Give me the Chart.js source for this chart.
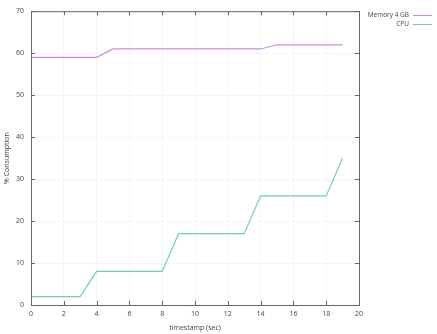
<!DOCTYPE html>
<html>
<head>
<meta charset="utf-8">
<script src="https://cdn.jsdelivr.net/npm/chart.js@4/dist/chart.umd.min.js"></script>
<style>
  html, body { margin: 0; padding: 0; background: #fff; }
  #wrap { width: 437px; height: 334px; }
</style>
</head>
<body>
<div id="wrap"><canvas id="chart" width="437" height="334"></canvas></div>
<script>
// timestamps (sec)
const timestamps = [0, 1, 2, 3, 4, 5, 6, 7, 8, 9, 10, 11, 12, 13, 14, 15, 16, 17, 18, 19];
const memoryValues = [59, 59, 59, 59, 59, 61, 61, 61, 61, 61, 61, 61, 61, 61, 61, 62, 62, 62, 62, 62];
const cpuValues = [2, 2, 2, 2, 8, 8, 8, 8, 8, 17, 17, 17, 17, 17, 26, 26, 26, 26, 26, 35];
const seriesLabels = ['Memory 4 GB', 'CPU'];
const seriesColors = ['#c78ce0', '#6cd0b8'];

const xTicks = { min: 0, max: 20, step: 2 };
const yTicks = { min: 0, max: 70, step: 10 };

const textColor = '#444';
const frameColor = '#666';

// gnuplot-like frame with inward ticks on all four sides, plus key on the right
const framePlugin = {
    id: 'frame',
    afterDraw(chart) {
        const { ctx, chartArea: a, scales } = chart;
        ctx.save();
        ctx.strokeStyle = frameColor;
        ctx.lineWidth = 1;
        ctx.strokeRect(a.left + 0.5, a.top + 0.5, a.right - a.left, a.bottom - a.top);
        ctx.beginPath();
        scales.x.ticks.forEach(t => {
            const px = Math.round(scales.x.getPixelForValue(t.value)) + 0.5;
            ctx.moveTo(px, a.bottom); ctx.lineTo(px, a.bottom - 4);
            ctx.moveTo(px, a.top); ctx.lineTo(px, a.top + 4);
        });
        scales.y.ticks.forEach(t => {
            const py = Math.round(scales.y.getPixelForValue(t.value)) + 0.5;
            ctx.moveTo(a.left, py); ctx.lineTo(a.left + 4, py);
            ctx.moveTo(a.right, py); ctx.lineTo(a.right - 4, py);
        });
        ctx.stroke();

        // key
        ctx.font = '6.5px "Open Sans", sans-serif';
        ctx.fillStyle = textColor;
        ctx.textAlign = 'right';
        ctx.textBaseline = 'middle';
        chart.data.datasets.forEach((ds, i) => {
            const y = 15 + i * 9;
            ctx.fillText(ds.label, 409, y);
            ctx.strokeStyle = ds.borderColor;
            ctx.beginPath();
            ctx.moveTo(413, Math.round(y) + 0.5);
            ctx.lineTo(432, Math.round(y) + 0.5);
            ctx.stroke();
        });
        ctx.restore();
    }
};

new Chart(document.getElementById('chart').getContext('2d'), {
    type: 'line',
    data: {
        datasets: [
            {
                label: seriesLabels[0],
                data: timestamps.map((t, i) => ({ x: t, y: memoryValues[i] })),
                borderColor: seriesColors[0],
                borderWidth: 1.2,
                pointRadius: 0,
                tension: 0
            },
            {
                label: seriesLabels[1],
                data: timestamps.map((t, i) => ({ x: t, y: cpuValues[i] })),
                borderColor: seriesColors[1],
                borderWidth: 1.2,
                pointRadius: 0,
                tension: 0
            }
        ]
    },
    options: {
        responsive: false,
        animation: false,
        layout: { padding: { top: 9, right: 78, left: 0, bottom: 0 } },
        plugins: { legend: { display: false }, tooltip: { enabled: false } },
        scales: {
            x: {
                type: 'linear',
                min: xTicks.min,
                max: xTicks.max,
                ticks: { stepSize: xTicks.step, color: textColor, font: { size: 7, family: '"Open Sans", sans-serif' }, padding: 5, maxRotation: 0 },
                grid: { color: '#f5f5f5', drawTicks: false },
                border: { display: false },
                title: { display: true, text: 'timestamp (sec)', color: textColor, font: { size: 7, family: '"Open Sans", sans-serif' }, padding: { top: 0, bottom: 2 } },
                afterFit: s => { s.height = 29; }
            },
            y: {
                min: yTicks.min,
                max: yTicks.max,
                ticks: { stepSize: yTicks.step, color: textColor, font: { size: 7, family: '"Open Sans", sans-serif' }, padding: 7 },
                grid: { color: '#f5f5f5', drawTicks: false },
                border: { display: false },
                title: { display: true, text: '% Consumption', color: textColor, font: { size: 7, family: '"Open Sans", sans-serif' }, padding: { top: 3, bottom: 0 } },
                afterFit: s => { s.width = 31; }
            }
        }
    },
    plugins: [framePlugin]
});
</script>
</body>
</html>
